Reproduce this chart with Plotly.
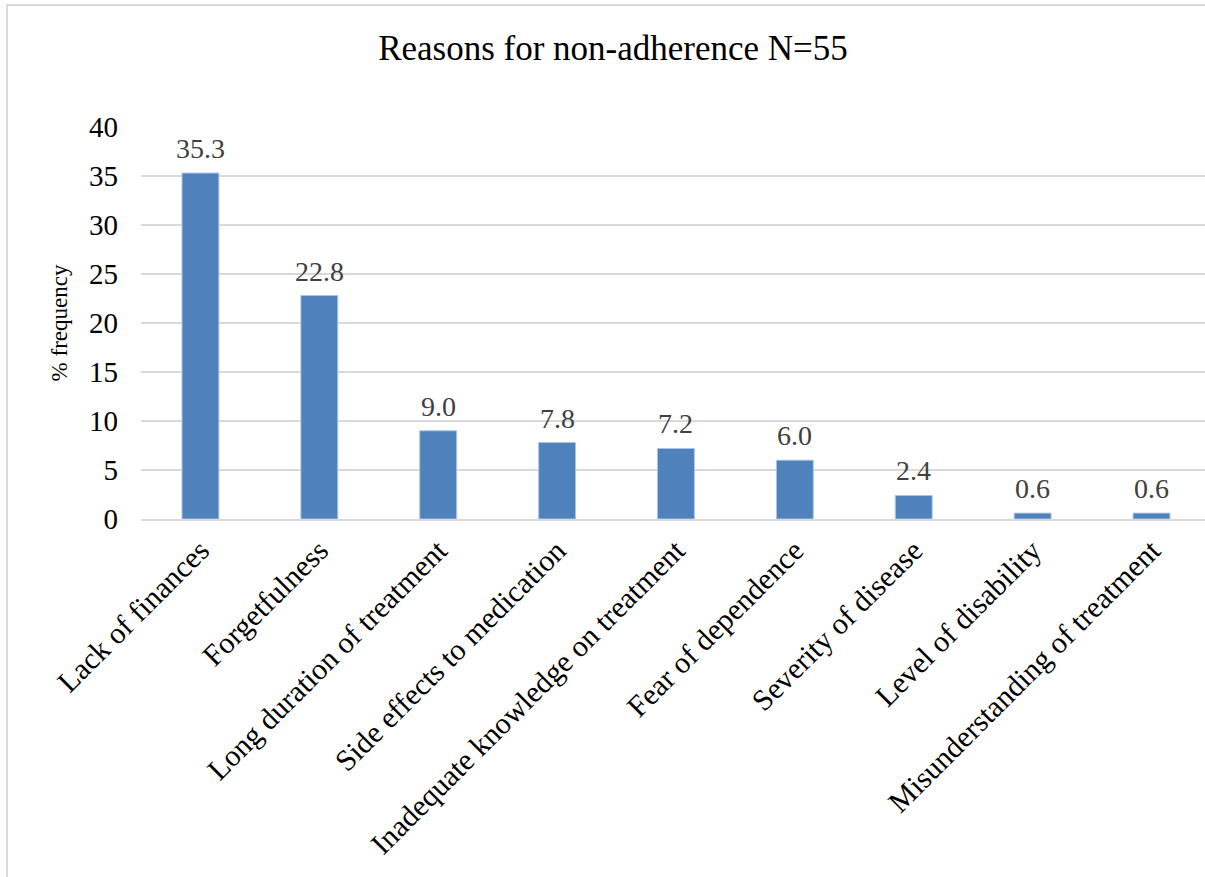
import plotly.graph_objects as go

reasons = [
    "Lack of finances",
    "Forgetfulness",
    "Long duration of treatment",
    "Side effects to medication",
    "Inadequate knowledge on treatment",
    "Fear of dependence",
    "Severity of disease",
    "Level of disability",
    "Misunderstanding of treatment",
]
percent = [35.3, 22.8, 9.0, 7.8, 7.2, 6.0, 2.4, 0.6, 0.6]
y_ticks = [0, 5, 10, 15, 20, 25, 30, 35, 40]

FONT = "Liberation Serif, Times New Roman, serif"
BAR = "#4F81BD"

fig = go.Figure(
    go.Bar(
        x=reasons,
        y=percent,
        width=0.31,
        marker=dict(color=BAR, line=dict(color="#a9c4e6", width=1)),
        hoverinfo="x+y",
    )
)

# value labels above each bar
for r, v in zip(reasons, percent):
    fig.add_annotation(
        x=r, y=v, text=f"{v:.1f}", showarrow=False,
        yanchor="bottom", yshift=7,
        font=dict(family=FONT, size=28, color="#404040"),
    )

# light frame around the chart area
fig.add_shape(
    type="rect", xref="paper", yref="paper",
    x0=-0.126, x1=1.05, y0=-1.2, y1=1.311,
    line=dict(color="#d9d9d9", width=2), fillcolor="rgba(0,0,0,0)",
    layer="below",
)

fig.update_layout(
    width=1205, height=877,
    margin=dict(l=141, r=0, t=127, b=358),
    paper_bgcolor="white", plot_bgcolor="white",
    font=dict(family=FONT, color="black"),
    title=dict(
        text="Reasons for non-adherence N=55",
        x=613 / 1205, xref="container", xanchor="center",
        y=1 - 48 / 877, yanchor="middle",
        font=dict(family=FONT, size=35, color="black"),
    ),
    showlegend=False,
    bargap=0.69,
)

fig.update_xaxes(
    range=[-0.5, 8.45],
    tickangle=-45,
    tickfont=dict(family=FONT, size=30, color="black"),
    showgrid=False,
    showline=True, linecolor="#d9d9d9", linewidth=2,
    ticks="",
)
fig.update_yaxes(
    range=[0, 40],
    tickvals=y_ticks,
    tickfont=dict(family=FONT, size=29, color="black"),
    showgrid=True, gridcolor="#d9d9d9", gridwidth=2,
    zeroline=False, showline=False, ticks="",
    ticklabelstandoff=22,
    title=dict(text="% frequency", font=dict(family=FONT, size=23, color="black"), standoff=14),
)

fig.write_html("out.html")
